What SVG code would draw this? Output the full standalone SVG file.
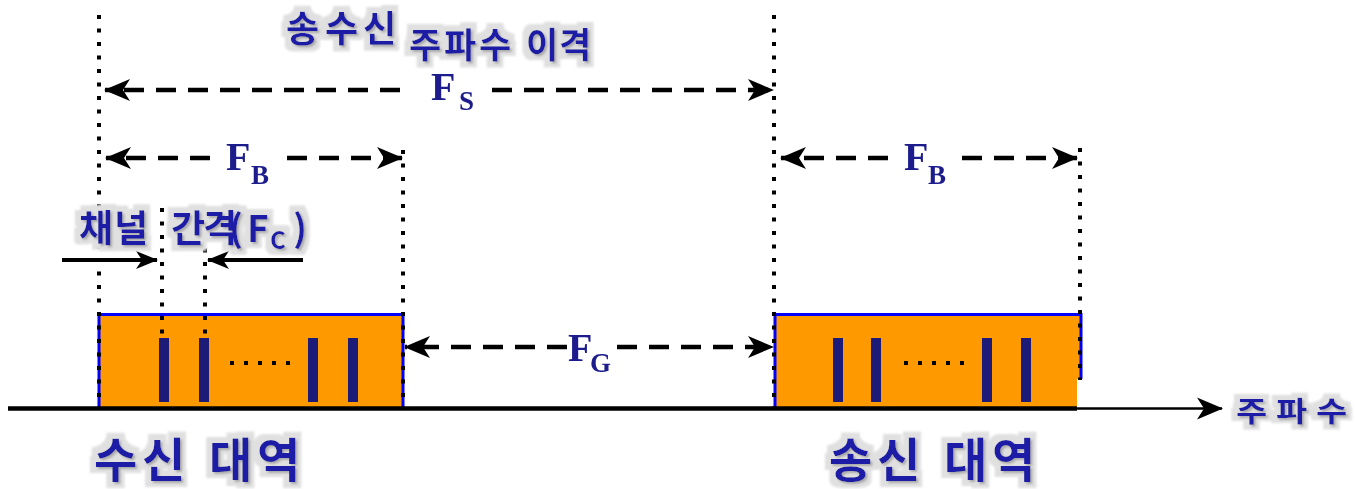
<svg xmlns="http://www.w3.org/2000/svg" width="1356" height="489" viewBox="0 0 1356 489">
<defs>
<style>
.kr{font-family:"Noto Sans CJK KR","Noto Sans",sans-serif;font-weight:bold;fill:#1c1ca6;filter:url(#halo)}
.fl{font-family:"Liberation Serif","DejaVu Serif",serif;font-weight:bold;fill:#1e1e8c;font-size:40px;filter:url(#soft)}
.sub{font-size:27px}
.dot{stroke:#000;stroke-width:4;stroke-dasharray:4 9.5;fill:none}
.dash{stroke:#000;stroke-width:4.5;stroke-dasharray:20 12;fill:none;marker-end:url(#ah)}
.solid{stroke:#000;stroke-width:4;fill:none;marker-end:url(#ahs)}
.bar{fill:#1c1c78}
.box{fill:#ff9900}
.edge{stroke:#0000ff;fill:none}
.sd{fill:#000}
</style>
<filter id="halo" x="-20%" y="-40%" width="140%" height="180%">
<feMorphology in="SourceAlpha" operator="dilate" radius="6" result="d"/>
<feGaussianBlur in="d" stdDeviation="1.2" result="b"/>
<feFlood flood-color="#e0e0e0"/>
<feComposite in2="b" operator="in" result="bg"/>
<feOffset in="SourceAlpha" dx="2" dy="2" result="so"/>
<feGaussianBlur in="so" stdDeviation="1" result="sb"/>
<feFlood flood-color="#a8a8a8"/>
<feComposite in2="sb" operator="in" result="sh"/>
<feMerge><feMergeNode in="bg"/><feMergeNode in="sh"/><feMergeNode in="SourceGraphic"/></feMerge>
</filter>
<filter id="soft" x="-20%" y="-20%" width="140%" height="140%">
<feGaussianBlur in="SourceGraphic" stdDeviation="0.5"/>
</filter>
<marker id="ah" markerUnits="userSpaceOnUse" markerWidth="26" markerHeight="24" viewBox="0 0 26 24" refX="25" refY="12" orient="auto">
<path d="M0,1 L26,12 L0,23 L7,12 Z" fill="#000"/>
</marker>
<marker id="ahs" markerUnits="userSpaceOnUse" markerWidth="22" markerHeight="20" viewBox="0 0 22 20" refX="21" refY="10" orient="auto">
<path d="M0,1 L22,10 L0,19 L6,10 Z" fill="#000"/>
</marker>
</defs>
<rect width="1356" height="489" fill="#fff"/>

<g id="rx-band">
<rect class="box" x="98" y="313" width="306" height="95"/>
<path class="edge" d="M99,408 V314.5 H403 V408" stroke-width="3"/>
<rect class="bar" x="159" y="338" width="10" height="64"/>
<rect class="bar" x="199" y="338" width="10" height="64"/>
<rect class="bar" x="308" y="338" width="10" height="64"/>
<rect class="bar" x="348" y="338" width="10" height="64"/>
<rect class="sd" x="230" y="361" width="4" height="4"/>
<rect class="sd" x="244" y="361" width="4" height="4"/>
<rect class="sd" x="258" y="361" width="4" height="4"/>
<rect class="sd" x="272" y="361" width="4" height="4"/>
<rect class="sd" x="286" y="361" width="4" height="4"/>
</g>

<g id="tx-band">
<path class="box" d="M774,313 H1082 V379 H1077 V408 H774 Z"/>
<path class="edge" d="M775,408 V314.5 H1081 V379" stroke-width="3"/>
<rect class="bar" x="833" y="338" width="10" height="64"/>
<rect class="bar" x="871" y="338" width="10" height="64"/>
<rect class="bar" x="982" y="338" width="10" height="64"/>
<rect class="bar" x="1021" y="338" width="10" height="64"/>
<rect class="sd" x="904" y="361" width="4" height="4"/>
<rect class="sd" x="918" y="361" width="4" height="4"/>
<rect class="sd" x="932" y="361" width="4" height="4"/>
<rect class="sd" x="946" y="361" width="4" height="4"/>
<rect class="sd" x="960" y="361" width="4" height="4"/>
</g>

<g id="guides">
<line class="dot" x1="99" y1="15" x2="99" y2="408"/>
<line class="dot" x1="403" y1="150" x2="403" y2="408"/>
<line class="dot" x1="774" y1="15" x2="774" y2="408"/>
<line class="dot" x1="1080" y1="148" x2="1080" y2="380"/>
<line class="dot" x1="162" y1="208" x2="162" y2="334"/>
<line class="dot" x1="205" y1="208" x2="205" y2="334"/>
</g>

<g id="connectors">
<line class="dash" x1="400" y1="90" x2="105" y2="90"/>
<line class="dash" x1="492" y1="90" x2="773" y2="90"/>
<line class="dash" x1="210" y1="158" x2="106" y2="158"/>
<line class="dash" x1="287" y1="158" x2="402" y2="158"/>
<line class="dash" x1="888" y1="158" x2="781" y2="158"/>
<line class="dash" x1="962" y1="158" x2="1077" y2="158"/>
<line class="dash" x1="567" y1="347" x2="405" y2="347"/>
<line class="dash" x1="617" y1="347" x2="773" y2="347"/>
<line class="solid" x1="62" y1="260" x2="157" y2="260"/>
<line class="solid" x1="303" y1="260" x2="208" y2="260"/>
<line x1="8" y1="408.5" x2="1077" y2="408.5" stroke="#000" stroke-width="4.5"/>
<line x1="1077" y1="408.5" x2="1222" y2="408.5" stroke="#000" stroke-width="2.5" marker-end="url(#ah)"/>
</g>

<g id="label-fs">
<text class="kr" font-size="36" x="286 325 363" y="42">송수신</text>
<text class="kr" font-size="35" x="409 444 479 515 526 559" y="58">주파수 이격</text>
<text class="fl" x="431" y="100">F<tspan class="sub" x="459" y="110">S</tspan></text>
</g>
<g id="label-fb1"><text class="fl" x="226" y="170">F<tspan class="sub" x="251" y="184">B</tspan></text></g>
<g id="label-fb2"><text class="fl" x="904" y="170">F<tspan class="sub" x="928" y="184">B</tspan></text></g>
<g id="label-fg"><text class="fl" x="568" y="361">F<tspan class="sub" x="590" y="372">G</tspan></text></g>
<g id="label-fc">
<text class="kr" font-size="37" x="79 114 150 171 203 229 247" y="242">채널 간격(F<tspan font-size="24" x="270" y="249">C</tspan><tspan x="293" y="242">)</tspan></text>
</g>
<g id="label-rx"><text class="kr" font-size="47" x="94 142 190 209 257" y="477">수신 대역</text></g>
<g id="label-tx"><text class="kr" font-size="47" x="829 877 925 944 992" y="477">송신 대역</text></g>
<g id="label-axis"><text class="kr" font-size="34" x="1236 1276 1316" y="0" transform="translate(0,422) scale(1,0.85)">주파수</text></g>
</svg>
